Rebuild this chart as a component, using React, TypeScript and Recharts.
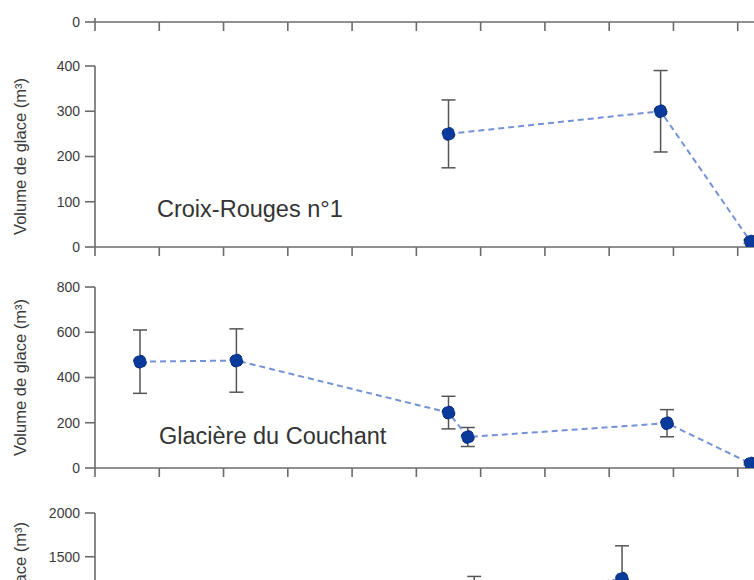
import { ErrorBar, Label, Line, LineChart, XAxis, YAxis } from "recharts";

const yearTicks = [1900, 1910, 1920, 1930, 1940, 1950, 1960, 1970, 1980, 1990, 2000, 2010];

const croixYears = [1955, 1988, 2002];
const croixVolume = [250, 300, 12];
const croixError = [75, 90, 4];

const couchantYears = [1907, 1922, 1955, 1958, 1989, 2002];
const couchantVolume = [470, 475, 245, 137, 198, 20];
const couchantError = [140, 140, 72, 42, 60, 6];

const lowerYears = [1959, 1982];
const lowerVolume = [980, 1250];
const lowerError = [295, 375];

const FONT = '"Liberation Sans", Arial, sans-serif';
const AXIS = "#6b6b6b";
const CHART_W = 808;

type Point = { year: number; volume: number; err: number };

function toPoints(years: number[], volume: number[], err: number[]): Point[] {
    return years.map((year, i) => ({ year, volume: volume[i], err: err[i] }));
}

function VolumeLabel({ viewBox }: any) {
    if (!viewBox) return null;
    const cx = viewBox.x + 20;
    const cy = viewBox.y + viewBox.height / 2;
    return (
        <text
            x={cx}
            y={cy}
            transform={`rotate(-90 ${cx} ${cy})`}
            textAnchor="middle"
            dominantBaseline="central"
            fontFamily={FONT}
            fontSize={16.5}
            fill="#3a3a3a"
        >
            Volume de glace (m³)
        </text>
    );
}

type PanelProps = {
    top: number;
    marginTop: number;
    plotHeight: number;
    yMax: number;
    yTicks: number[];
    data: Point[];
    showLabel?: boolean;
};

function Panel({ top, marginTop, plotHeight, yMax, yTicks, data, showLabel = true }: PanelProps) {
    const height = marginTop + plotHeight + 20;
    return (
        <div style={{ position: "absolute", left: 0, top }}>
            <LineChart
                width={CHART_W}
                height={height}
                data={data}
                margin={{ top: marginTop, right: 6, bottom: 0, left: 0 }}
            >
                <XAxis
                    type="number"
                    dataKey="year"
                    domain={[1900, 2010]}
                    allowDataOverflow
                    ticks={yearTicks}
                    interval={0}
                    height={20}
                    tickSize={9}
                    tickFormatter={() => ""}
                    axisLine={{ stroke: AXIS, strokeWidth: 1.6 }}
                    tickLine={{ stroke: AXIS, strokeWidth: 1.6 }}
                />
                <YAxis
                    type="number"
                    domain={[0, yMax]}
                    allowDataOverflow
                    ticks={yTicks}
                    interval={0}
                    width={95}
                    tickSize={10}
                    tickMargin={5}
                    tick={{ fontSize: 14, fill: "#3a3a3a", fontFamily: FONT }}
                    axisLine={{ stroke: AXIS, strokeWidth: 1.6 }}
                    tickLine={{ stroke: AXIS, strokeWidth: 1.6 }}
                >
                    {showLabel && <Label content={<VolumeLabel />} />}
                </YAxis>
                <Line
                    type="linear"
                    dataKey="volume"
                    stroke="#7492d8"
                    strokeWidth={2}
                    strokeDasharray="6 4"
                    dot={{ r: 6.5, fill: "#0a3a9c", stroke: "#062460", strokeWidth: 1 }}
                    activeDot={false}
                    isAnimationActive={false}
                >
                    <ErrorBar
                        dataKey="err"
                        direction="y"
                        width={7}
                        stroke="#555"
                        strokeWidth={1.5}
                        isAnimationActive={false}
                    />
                </Line>
            </LineChart>
        </div>
    );
}

const titleStyle: React.CSSProperties = {
    position: "absolute",
    fontFamily: FONT,
    fontSize: 23.5,
    lineHeight: 1,
    color: "#333",
    whiteSpace: "nowrap",
};

export default function App() {
    return (
        <div
            style={{
                position: "absolute",
                left: 0,
                top: 0,
                width: 754,
                height: 580,
                overflow: "hidden",
                background: "#fff",
            }}
        >
            <Panel top={0} marginTop={18} plotHeight={4} yMax={10} yTicks={[0]} data={[]} showLabel={false} />
            <Panel
                top={56}
                marginTop={10}
                plotHeight={181}
                yMax={400}
                yTicks={[0, 100, 200, 300, 400]}
                data={toPoints(croixYears, croixVolume, croixError)}
            />
            <div style={{ ...titleStyle, left: 157, top: 198 }}>Croix-Rouges n°1</div>
            <Panel
                top={277}
                marginTop={10}
                plotHeight={181}
                yMax={800}
                yTicks={[0, 200, 400, 600, 800]}
                data={toPoints(couchantYears, couchantVolume, couchantError)}
            />
            <div style={{ ...titleStyle, left: 159, top: 425 }}>Glacière du Couchant</div>
            <Panel
                top={503}
                marginTop={10}
                plotHeight={175}
                yMax={2000}
                yTicks={[0, 500, 1000, 1500, 2000]}
                data={toPoints(lowerYears, lowerVolume, lowerError)}
            />
        </div>
    );
}
